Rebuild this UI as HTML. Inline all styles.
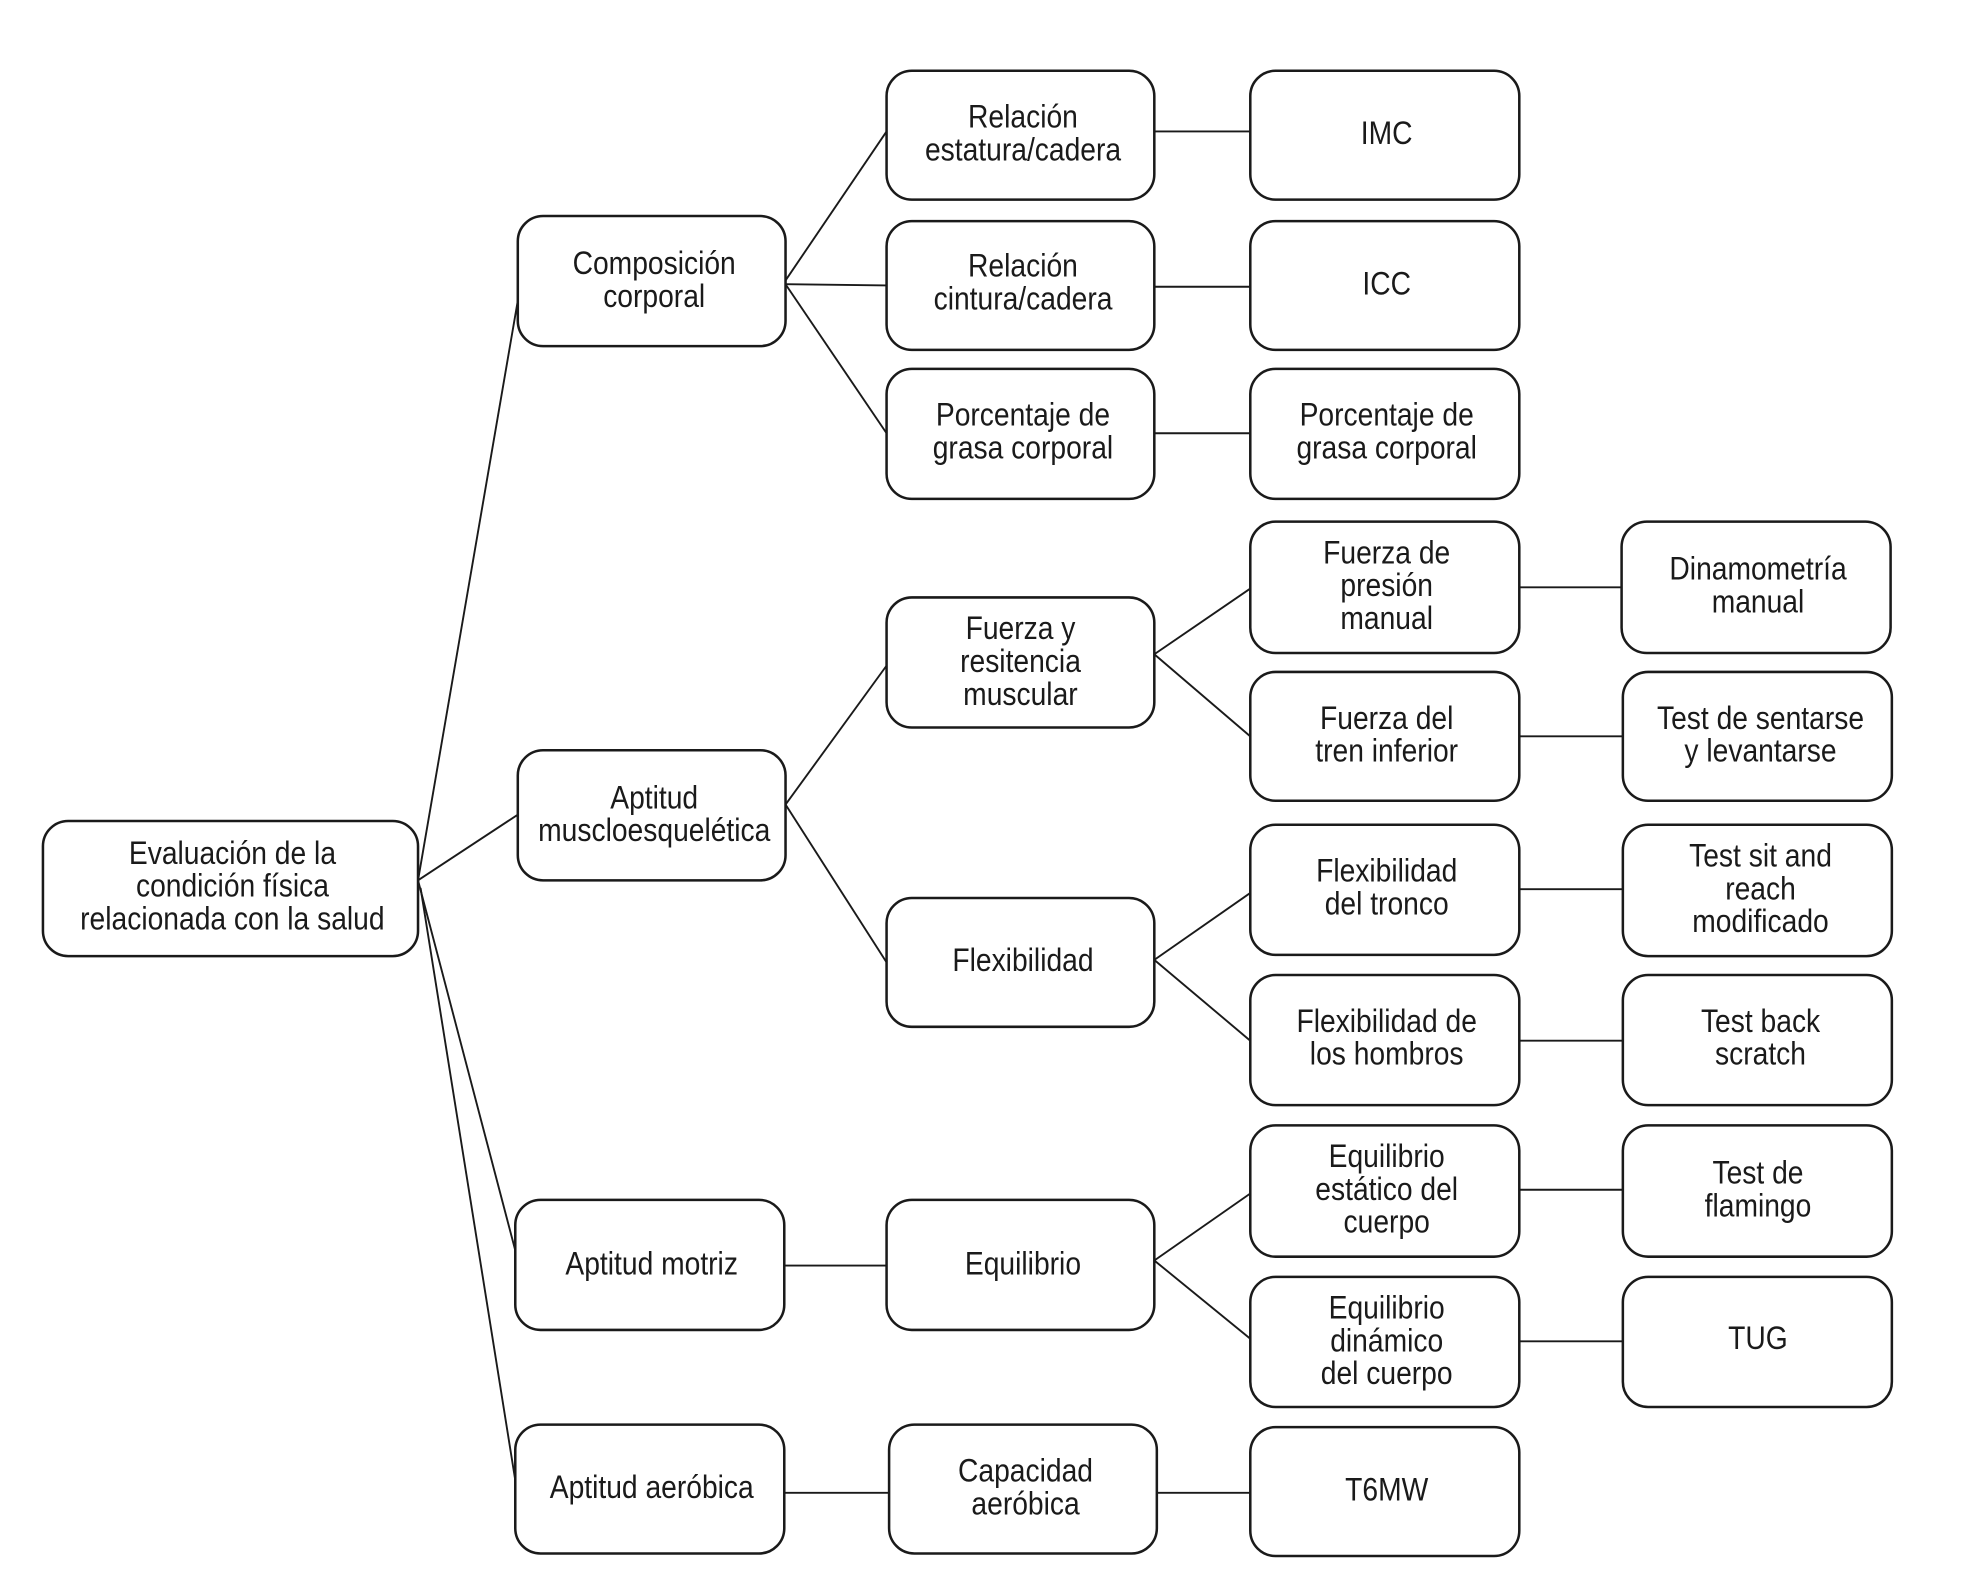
<!DOCTYPE html>
<html><head><meta charset="utf-8"><style>
html,body{margin:0;padding:0;background:#fff;}
svg{display:block;}
text{font-family:"Liberation Sans",sans-serif;font-size:26px;fill:#1a1a1a;text-anchor:middle;transform-box:fill-box;transform-origin:center;transform:scaleX(0.86);}
rect{fill:#fff;stroke:#1a1a1a;stroke-width:2;}
line{stroke:#1a1a1a;stroke-width:1.5;}
</style></head><body>
<svg width="1979" height="1587" viewBox="0 0 1567 1256.5" xmlns="http://www.w3.org/2000/svg">
<line x1="331" y1="697" x2="410" y2="238"/>
<line x1="331" y1="697" x2="410" y2="645"/>
<line x1="331" y1="697" x2="408" y2="990"/>
<line x1="333" y1="703" x2="408" y2="1172"/>
<line x1="622" y1="222" x2="702" y2="104"/>
<line x1="622" y1="225" x2="702" y2="226"/>
<line x1="622" y1="225" x2="702" y2="343"/>
<line x1="622" y1="637" x2="702" y2="527"/>
<line x1="622" y1="637" x2="702" y2="762"/>
<line x1="914" y1="518" x2="990" y2="466"/>
<line x1="914" y1="518" x2="990" y2="583"/>
<line x1="914" y1="760" x2="990" y2="707"/>
<line x1="914" y1="760" x2="990" y2="824"/>
<line x1="914" y1="998" x2="990" y2="945"/>
<line x1="914" y1="998" x2="990" y2="1060"/>
<line x1="914" y1="104" x2="990" y2="104"/>
<line x1="914" y1="227" x2="990" y2="227"/>
<line x1="914" y1="343" x2="990" y2="343"/>
<line x1="1203" y1="465" x2="1284" y2="465"/>
<line x1="1203" y1="583" x2="1285" y2="583"/>
<line x1="1203" y1="704" x2="1285" y2="704"/>
<line x1="1203" y1="824" x2="1285" y2="824"/>
<line x1="1203" y1="942" x2="1285" y2="942"/>
<line x1="1203" y1="1062" x2="1285" y2="1062"/>
<line x1="621" y1="1002" x2="702" y2="1002"/>
<line x1="621" y1="1182" x2="704" y2="1182"/>
<line x1="916" y1="1182" x2="990" y2="1182"/>
<rect x="34" y="650" width="297" height="107" rx="20"/>
<rect x="410" y="171" width="212" height="103" rx="20"/>
<rect x="410" y="594" width="212" height="103" rx="20"/>
<rect x="408" y="950" width="213" height="103" rx="20"/>
<rect x="408" y="1128" width="213" height="102" rx="20"/>
<rect x="702" y="56" width="212" height="102" rx="20"/>
<rect x="702" y="175" width="212" height="102" rx="20"/>
<rect x="702" y="292" width="212" height="103" rx="20"/>
<rect x="702" y="473" width="212" height="103" rx="20"/>
<rect x="702" y="711" width="212" height="102" rx="20"/>
<rect x="702" y="950" width="212" height="103" rx="20"/>
<rect x="704" y="1128" width="212" height="102" rx="20"/>
<rect x="990" y="56" width="213" height="102" rx="20"/>
<rect x="990" y="175" width="213" height="102" rx="20"/>
<rect x="990" y="292" width="213" height="103" rx="20"/>
<rect x="990" y="413" width="213" height="104" rx="20"/>
<rect x="990" y="532" width="213" height="102" rx="20"/>
<rect x="990" y="653" width="213" height="103" rx="20"/>
<rect x="990" y="772" width="213" height="103" rx="20"/>
<rect x="990" y="891" width="213" height="104" rx="20"/>
<rect x="990" y="1011" width="213" height="103" rx="20"/>
<rect x="990" y="1130" width="213" height="102" rx="20"/>
<rect x="1284" y="413" width="213" height="104" rx="20"/>
<rect x="1285" y="532" width="213" height="102" rx="20"/>
<rect x="1285" y="653" width="213" height="104" rx="20"/>
<rect x="1285" y="772" width="213" height="103" rx="20"/>
<rect x="1285" y="891" width="213" height="104" rx="20"/>
<rect x="1285" y="1011" width="213" height="103" rx="20"/>
<text x="184" y="684">Evaluación de la</text>
<text x="184" y="710">condición física</text>
<text x="184" y="736">relacionada con la salud</text>
<text x="518" y="217">Composición</text>
<text x="518" y="243">corporal</text>
<text x="518" y="640">Aptitud</text>
<text x="518" y="666">muscloesquelética</text>
<text x="516" y="1009">Aptitud motriz</text>
<text x="516" y="1186">Aptitud aeróbica</text>
<text x="810" y="101">Relación</text>
<text x="810" y="127">estatura/cadera</text>
<text x="810" y="219">Relación</text>
<text x="810" y="245">cintura/cadera</text>
<text x="810" y="337">Porcentaje de</text>
<text x="810" y="363">grasa corporal</text>
<text x="808" y="506">Fuerza y</text>
<text x="808" y="532">resitencia</text>
<text x="808" y="558">muscular</text>
<text x="810" y="769">Flexibilidad</text>
<text x="810" y="1009">Equilibrio</text>
<text x="812" y="1173">Capacidad</text>
<text x="812" y="1199">aeróbica</text>
<text x="1098" y="114">IMC</text>
<text x="1098" y="233">ICC</text>
<text x="1098" y="337">Porcentaje de</text>
<text x="1098" y="363">grasa corporal</text>
<text x="1098" y="446">Fuerza de</text>
<text x="1098" y="472">presión</text>
<text x="1098" y="498">manual</text>
<text x="1098" y="577">Fuerza del</text>
<text x="1098" y="603">tren inferior</text>
<text x="1098" y="698">Flexibilidad</text>
<text x="1098" y="724">del tronco</text>
<text x="1098" y="817">Flexibilidad de</text>
<text x="1098" y="843">los hombros</text>
<text x="1098" y="924">Equilibrio</text>
<text x="1098" y="950">estático del</text>
<text x="1098" y="976">cuerpo</text>
<text x="1098" y="1044">Equilibrio</text>
<text x="1098" y="1070">dinámico</text>
<text x="1098" y="1096">del cuerpo</text>
<text x="1098" y="1188">T6MW</text>
<text x="1392" y="459">Dinamometría</text>
<text x="1392" y="485">manual</text>
<text x="1394" y="577">Test de sentarse</text>
<text x="1394" y="603">y levantarse</text>
<text x="1394" y="686">Test sit and</text>
<text x="1394" y="712">reach</text>
<text x="1394" y="738">modificado</text>
<text x="1394" y="817">Test back</text>
<text x="1394" y="843">scratch</text>
<text x="1392" y="937">Test de</text>
<text x="1392" y="963">flamingo</text>
<text x="1392" y="1068">TUG</text>
</svg>
</body></html>
